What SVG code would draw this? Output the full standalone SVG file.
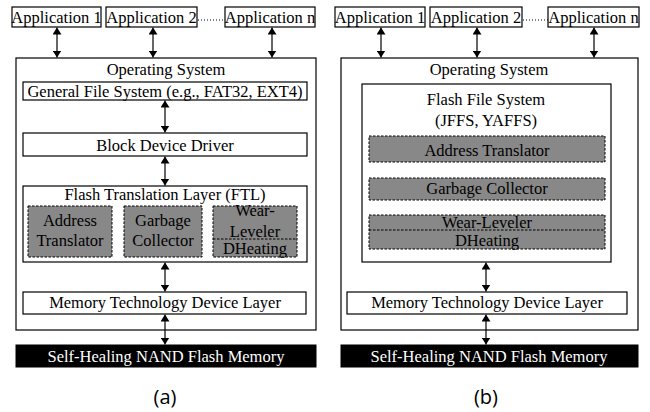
<svg xmlns="http://www.w3.org/2000/svg" width="650" height="412" viewBox="0 0 650 412">
<defs>
<marker id="ah" viewBox="0 0 10 10" refX="10" refY="5" markerWidth="7" markerHeight="9" markerUnits="userSpaceOnUse" orient="auto-start-reverse" preserveAspectRatio="none">
<path d="M0,0 L10,5 L0,10 Z" fill="#000"/>
</marker>
</defs>
<style>
.b{fill:#fff;stroke:#000;stroke-width:1.2}
.g{fill:#888;stroke:#000;stroke-width:1;stroke-dasharray:2.5,1.5}
.d{fill:none;stroke:#000;stroke-width:1;stroke-dasharray:2.5,1.5}
.k{fill:#000;stroke:#000}
.t{font-size:16.5px;text-anchor:middle;fill:#000}
.w{fill:#fff}
.c{font-size:20px;text-anchor:middle;fill:#000}
.a{stroke:#000;stroke-width:1.2;fill:none;marker-start:url(#ah);marker-end:url(#ah)}
.dot{stroke:#000;stroke-width:1.2;stroke-dasharray:1,2}
</style>
<rect width="650" height="412" fill="#fff"/>

<g id="panel-a" font-family="Liberation Serif, Times New Roman, serif">
<g id="a-os"><rect class="b" x="16" y="58" width="300" height="272"/><text class="t" x="166" y="75">Operating System</text></g>
<g id="a-app1"><rect class="b" x="12" y="7" width="89" height="20"/><text class="t" x="56.5" y="22.5">Application 1</text></g>
<g id="a-app2"><rect class="b" x="106" y="7" width="91" height="20"/><text class="t" x="151.5" y="22.5">Application 2</text></g>
<g id="a-appn"><rect class="b" x="225" y="7" width="90" height="20"/><text class="t" x="270" y="22.5">Application n</text></g>
<g id="a-gfs"><rect class="b" x="23" y="82" width="284" height="18"/><text class="t" x="165" y="97">General File System (e.g., FAT32, EXT4)</text></g>
<g id="a-bdd"><rect class="b" x="23" y="133" width="284" height="23"/><text class="t" x="165" y="151">Block Device Driver</text></g>
<g id="a-ftl"><rect class="b" x="23" y="186" width="284" height="76"/><text class="t" x="165" y="200">Flash Translation Layer (FTL)</text></g>
<g id="a-at"><rect class="g" x="28" y="206" width="84" height="51"/><text class="t" x="70" y="226">Address</text><text class="t" x="70" y="246">Translator</text></g>
<g id="a-gc"><rect class="g" x="124" y="206" width="78" height="51"/><text class="t" x="163" y="226">Garbage</text><text class="t" x="163" y="246">Collector</text></g>
<g id="a-wl"><rect class="g" x="213" y="206" width="84" height="51"/><line class="d" x1="213" y1="239" x2="297" y2="239"/><text class="t" x="255" y="215.5">Wear-</text><text class="t" x="255" y="236.5">Leveler</text><text class="t" x="255" y="254">DHeating</text></g>
<g id="a-mtd"><rect class="b" x="23" y="292" width="283" height="22"/><text class="t" x="165" y="308">Memory Technology Device Layer</text></g>
<g id="a-nand"><rect class="k" x="16" y="345" width="300" height="22"/><text class="t w" x="166" y="361.5">Self-Healing NAND Flash Memory</text></g>
<text class="c" font-family="Open Sans, DejaVu Sans, sans-serif" x="165" y="404">(a)</text>
</g>

<g id="panel-b" font-family="Liberation Serif, Times New Roman, serif">
<g id="b-os"><rect class="b" x="341" y="58" width="297" height="272"/><text class="t" x="489" y="75">Operating System</text></g>
<g id="b-app1"><rect class="b" x="335" y="7" width="90" height="20"/><text class="t" x="380" y="22.5">Application 1</text></g>
<g id="b-app2"><rect class="b" x="430" y="7" width="92" height="20"/><text class="t" x="476" y="22.5">Application 2</text></g>
<g id="b-appn"><rect class="b" x="548" y="7" width="91" height="20"/><text class="t" x="593.5" y="22.5">Application n</text></g>
<g id="b-ffs"><rect class="b" x="362" y="84" width="249" height="178"/><text class="t" x="486" y="105">Flash File System</text><text class="t" x="486" y="126">(JFFS, YAFFS)</text></g>
<g id="b-at"><rect class="g" x="369" y="136" width="236" height="26"/><text class="t" x="487" y="156">Address Translator</text></g>
<g id="b-gc"><rect class="g" x="369" y="178" width="236" height="22"/><text class="t" x="487" y="194">Garbage Collector</text></g>
<g id="b-wl"><rect class="g" x="369" y="215" width="236" height="34"/><line class="d" x1="369" y1="230" x2="605" y2="230"/><text class="t" x="487" y="228">Wear-Leveler</text><text class="t" x="487" y="246">DHeating</text></g>
<g id="b-mtd"><rect class="b" x="347" y="292" width="280" height="22"/><text class="t" x="487" y="308">Memory Technology Device Layer</text></g>
<g id="b-nand"><rect class="k" x="341" y="345" width="297" height="22"/><text class="t w" x="489" y="361.5">Self-Healing NAND Flash Memory</text></g>
<text class="c" font-family="Open Sans, DejaVu Sans, sans-serif" x="486" y="404">(b)</text>
</g>

<g id="connectors">
<line class="dot" x1="198" y1="20" x2="225" y2="20"/>
<line class="dot" x1="523" y1="20" x2="548" y2="20"/>
<line class="a" x1="57" y1="27.5" x2="57" y2="57.5"/>
<line class="a" x1="153" y1="27.5" x2="153" y2="57.5"/>
<line class="a" x1="272" y1="27.5" x2="272" y2="57.5"/>
<line class="a" x1="165" y1="100.5" x2="165" y2="132.5"/>
<line class="a" x1="165" y1="156.5" x2="165" y2="185.5"/>
<line class="a" x1="165" y1="262.5" x2="165" y2="291.5"/>
<line class="a" x1="165" y1="314.5" x2="165" y2="344.5"/>
<line class="a" x1="381" y1="27.5" x2="381" y2="57.5"/>
<line class="a" x1="477" y1="27.5" x2="477" y2="57.5"/>
<line class="a" x1="594" y1="27.5" x2="594" y2="57.5"/>
<line class="a" x1="486" y1="262.5" x2="486" y2="291.5"/>
<line class="a" x1="486" y1="314.5" x2="486" y2="344.5"/>
</g>
</svg>
